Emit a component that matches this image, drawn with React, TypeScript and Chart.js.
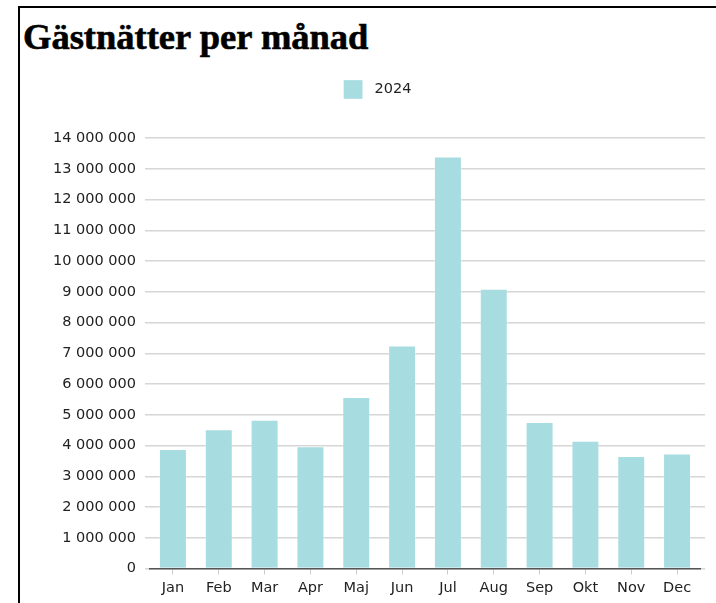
import React, { useEffect, useRef } from "react";
import { Chart, registerables } from "chart.js";

Chart.register(...registerables);

const title = "Gästnätter per månad";
const seriesLabel = "2024";
const categories = ["Jan", "Feb", "Mar", "Apr", "Maj", "Jun", "Jul", "Aug", "Sep", "Okt", "Nov", "Dec"];
const values2024 = [3890000, 4530000, 4840000, 3980000, 5580000, 7250000, 13400000, 9100000, 4770000, 4160000, 3660000, 3740000];
const yMin = 0;
const yMax = 14000000;
const yStep = 1000000;

const FONT = "'DejaVu Sans', Verdana, sans-serif";
const BAR = "#a7dce0";
const GRID = "#d6d6d6";

function fmt(v: number): string {
  return String(Math.round(v)).replace(/\B(?=(\d{3})+(?!\d))/g, "\u00a0");
}

const legendMargin = {
  id: "legendMargin",
  beforeInit(chart: any) {
    const legend = chart.legend;
    if (!legend) return;
    const orig = legend.fit;
    legend.fit = function () {
      orig.call(this);
      this.height += 29;
    };
  },
};

export default function App() {
  const ref = useRef<HTMLCanvasElement | null>(null);
  useEffect(() => {
    if (!ref.current) return;
    const chart = new Chart(ref.current, {
      type: "bar",
      data: {
        labels: categories,
        datasets: [
          {
            label: seriesLabel,
            data: values2024,
            backgroundColor: BAR,
            borderColor: "rgba(255,255,255,0.3)",
            borderWidth: 1,
            categoryPercentage: 1,
            barPercentage: 0.61,
          },
        ],
      },
      plugins: [legendMargin],
      options: {
        animation: false,
        responsive: true,
        maintainAspectRatio: false,
        layout: { padding: { left: 4, right: 9, top: 0, bottom: 8 } },
        plugins: {
          legend: {
            display: true,
            position: "top",
            labels: {
              boxWidth: 19,
              boxHeight: 19,
              color: "#222",
              font: { family: FONT, size: 14.5 },
              padding: 10,
              generateLabels: (c: any) =>
                Chart.defaults.plugins.legend.labels.generateLabels(c).map((l: any) => ({
                  ...l,
                  text: "\u00a0" + l.text,
                })),
            },
          },
          tooltip: { enabled: false },
        },
        scales: {
          x: {
            grid: {
              display: true,
              drawOnChartArea: false,
              drawTicks: true,
              tickLength: 6,
              offset: false,
              color: "#cccccc",
            },
            border: { display: true, color: "#555555", width: 1.5 },
            ticks: {
              color: "#222",
              font: { family: FONT, size: 14.5 },
              padding: 5,
              maxRotation: 0,
            },
          },
          y: {
            min: yMin,
            max: yMax,
            grid: {
              color: GRID,
              lineWidth: 1.5,
              tickLength: 5,
            },
            border: { display: false },
            ticks: {
              stepSize: yStep,
              color: "#222",
              font: { family: FONT, size: 14.5 },
              padding: 9,
              callback: (v: any) => fmt(Number(v)),
            },
          },
          y2: {
            position: "right",
            min: yMin,
            max: yMax,
            grid: {
              color: GRID,
              lineWidth: 1.5,
              drawOnChartArea: false,
              drawTicks: true,
              tickLength: 5,
            },
            border: { display: false },
            ticks: { stepSize: yStep, display: false },
            afterFit: (s: any) => {
              s.width = 11;
            },
          },
        },
      },
    });
    return () => chart.destroy();
  }, []);

  return (
    <div style={{ position: "fixed", left: 0, top: 0, width: 716, height: 603, overflow: "hidden", background: "#fff" }}>
      <div
        style={{
          position: "absolute",
          left: 18,
          top: 6,
          width: 780,
          height: 700,
          border: "2px solid #000",
          boxSizing: "border-box",
        }}
      >
        <div
          style={{
            position: "absolute",
            left: 3,
            top: 11,
            fontFamily: "'Liberation Serif', 'Times New Roman', serif",
            fontWeight: 700,
            fontSize: 36.5,
            lineHeight: "36px",
            whiteSpace: "nowrap",
            color: "#000",
            WebkitTextStroke: "0.6px #000",
          }}
        >
          {title}
        </div>
        <div style={{ position: "absolute", left: 20, top: 62, width: 680, height: 540 }}>
          <canvas ref={ref} />
        </div>
      </div>
    </div>
  );
}
